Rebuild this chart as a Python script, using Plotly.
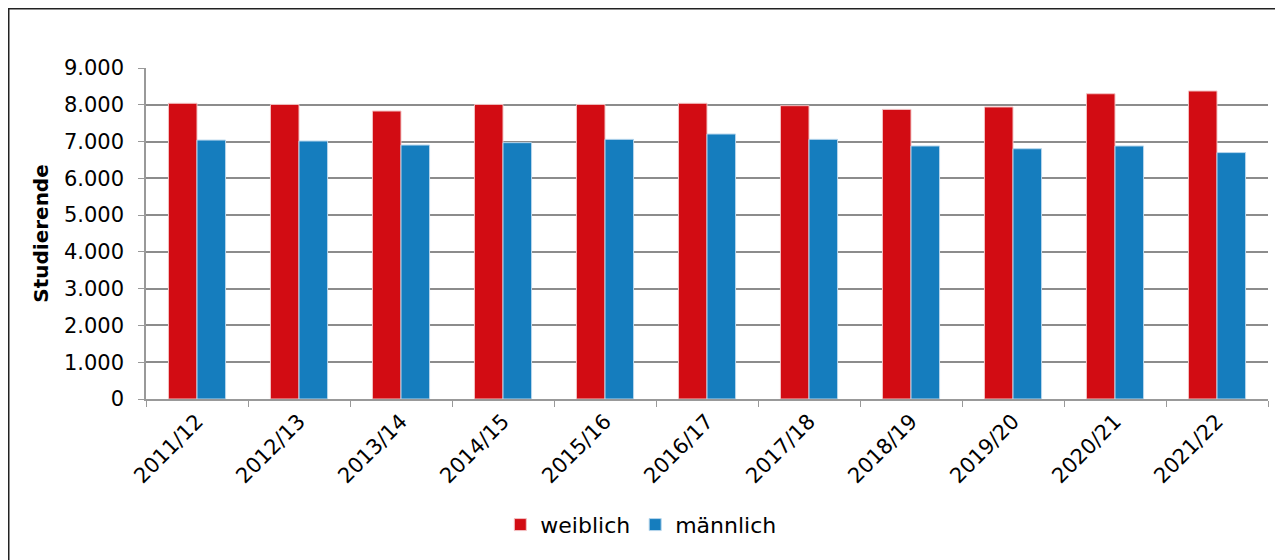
import plotly.graph_objects as go

categories = ["2011/12", "2012/13", "2013/14", "2014/15", "2015/16", "2016/17",
              "2017/18", "2018/19", "2019/20", "2020/21", "2021/22"]
weiblich = [8040, 8010, 7830, 8010, 8010, 8040, 7975, 7875, 7940, 8300, 8375]
maennlich = [7040, 7015, 6905, 6970, 7060, 7205, 7060, 6880, 6805, 6880, 6700]
y_ticks = [0, 1000, 2000, 3000, 4000, 5000, 6000, 7000, 8000, 9000]
y_labels = ["0", "1.000", "2.000", "3.000", "4.000", "5.000", "6.000", "7.000", "8.000", "9.000"]

FONT = "DejaVu Sans"

# page body has an 8px default margin; figure is sized/placed to compensate
W, H = 1275, 552
L, T, R = 138, 60, 15
PLOT_H = 331
B = H - T - PLOT_H
PLOT_W = W - L - R

fig = go.Figure()
fig.add_trace(go.Bar(x=categories, y=weiblich, name="weiblich",
                     marker=dict(color="#D20C13", line=dict(color="#F3C3C4", width=1))))
fig.add_trace(go.Bar(x=categories, y=maennlich, name="männlich",
                     marker=dict(color="#157DBE", line=dict(color="#B7D6EC", width=1))))

fig.update_layout(
    width=W, height=H,
    margin=dict(l=L, r=R, t=T, b=B),
    paper_bgcolor="white", plot_bgcolor="white",
    barmode="group", bargap=0.44, bargroupgap=0,
    font=dict(family=FONT, size=21, color="black"),
    showlegend=True,
    legend=dict(orientation="h", x=0.441, xanchor="center", y=-0.38, yanchor="middle",
                font=dict(family=FONT, size=22), itemwidth=30, traceorder="normal"),
    xaxis=dict(tickangle=-45, tickson="boundaries", ticks="outside", ticklen=6,
               tickcolor="#999999", showline=True, linecolor="#999999", linewidth=1.5,
               showgrid=False, tickfont=dict(family=FONT, size=21)),
    yaxis=dict(range=[0, 9000], tickvals=y_ticks, ticktext=y_labels,
               ticks="outside", ticklen=6, tickcolor="#999999", ticklabelstandoff=10,
               showline=True, linecolor="#999999", linewidth=1.5,
               showgrid=True, gridcolor="#8C8C8C", gridwidth=1.5,
               tickfont=dict(family=FONT, size=21),
               title=dict(text="<b>Studierende</b>", font=dict(family=FONT, size=20), standoff=10)),
    shapes=[dict(type="rect", xref="paper", yref="paper",
                 x0=(0.5 - L) / PLOT_W, x1=1.05, y0=-0.6, y1=1 + (T - 0.5) / PLOT_H,
                 line=dict(color="#222222", width=2), layer="below")],
)

fig.write_html("out.html")
